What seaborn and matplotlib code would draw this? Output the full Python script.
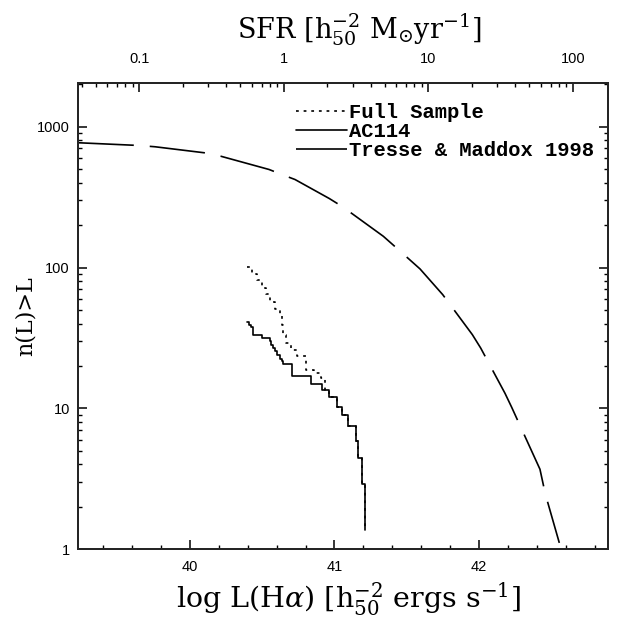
import numpy as np
import pandas as pd
import matplotlib
matplotlib.use("Agg")
import matplotlib.pyplot as plt
import seaborn as sns
from matplotlib.ticker import LogLocator, FixedLocator, FuncFormatter, MultipleLocator, NullFormatter

# ---------------- data ----------------
# AC114 cumulative counts (step function, steps-post)
ac114_logL = [40.397, 40.410, 40.421, 40.436, 40.498, 40.554, 40.562, 40.577, 40.586,
              40.600, 40.623, 40.637, 40.646, 40.706, 40.837, 40.916, 40.960, 41.015,
              41.050, 41.096, 41.149, 41.163, 41.188, 41.211]
ac114_n = [40.8, 39.3, 37.8, 33.4, 31.6, 29.9, 28.4, 26.9, 25.4, 24.0, 22.6, 21.6,
           20.6, 16.9, 14.96, 13.56, 12.0, 10.3, 9.0, 7.44, 5.9, 4.43, 2.9, 1.37]

# Full sample cumulative counts (step function, steps-post)
full_logL = [40.397, 40.427, 40.461, 40.496, 40.526, 40.554, 40.588, 40.623, 40.634,
             40.646, 40.664, 40.699, 40.738, 40.803, 40.858, 40.905, 40.935, 40.960,
             41.015, 41.050, 41.096, 41.149, 41.163, 41.188, 41.211]
full_n = [101, 90.5, 81.1, 71.6, 64.9, 56.6, 50.8, 45.5, 39.3, 33.4, 29.1, 25.8, 23.4,
          18.8, 17.8, 16.4, 13.56, 12.0, 10.3, 9.0, 7.44, 5.9, 4.43, 2.9, 1.37]

# Tresse & Maddox 1998 cumulative function
tm_logL = [39.227, 39.642, 39.758, 40.099, 40.212, 40.547, 40.653, 40.727, 40.964,
           41.057, 41.338, 41.421, 41.592, 41.749, 41.954, 42.012, 42.180, 42.226,
           42.422, 42.459, 42.556]
tm_n = [768.5, 735.3, 719.7, 652.3, 617.0, 496.5, 450.1, 421.3, 308.9, 269.5, 166.6,
        140.1, 97.7, 64.2, 33.4, 26.8, 12.8, 10.2, 3.70, 2.47, 1.11]

labels = ["Full Sample", "AC114", "Tresse & Maddox 1998"]
x_ticks = [40, 41, 42]
y_ticks = [1, 10, 100, 1000]
sfr_ticks = [0.1, 1, 10, 100]
sfr_zero = 40.65  # log L at SFR = 1

xlim = (39.227, 42.895)
ylim = (1, 2050)

# ---------------- style ----------------
sns.set_theme(style="ticks")
plt.rcParams["font.family"] = ["Liberation Sans", "DejaVu Sans"]
plt.rcParams["mathtext.fontset"] = "dejavuserif"
plt.rcParams["lines.scale_dashes"] = False

fig = plt.figure(figsize=(6.17, 6.21), dpi=100)
ax = fig.add_axes([0.1269, 0.1155, 0.9859 - 0.1269, 0.8668 - 0.1155])

df_full = pd.DataFrame({"logL": full_logL, "n": full_n})
df_ac = pd.DataFrame({"logL": ac114_logL, "n": ac114_n})
df_tm = pd.DataFrame({"logL": tm_logL, "n": tm_n})

sns.lineplot(data=df_full, x="logL", y="n", ax=ax, estimator=None, sort=False,
             drawstyle="steps-post", color="black", lw=1.2,
             linestyle=(0, (2.0, 3.5)), label=labels[0])
sns.lineplot(data=df_ac, x="logL", y="n", ax=ax, estimator=None, sort=False,
             drawstyle="steps-post", color="black", lw=1.2, label=labels[1])
sns.lineplot(data=df_tm, x="logL", y="n", ax=ax, estimator=None, sort=False,
             color="black", lw=1.2, linestyle=(0, (40, 11.5)), label=labels[2])

ax.set_yscale("log")
ax.set_xlim(*xlim)
ax.set_ylim(*ylim)

for s in ax.spines.values():
    s.set_linewidth(1.4)
    s.set_color("black")
    s.set_visible(True)

ax.xaxis.set_major_locator(FixedLocator(x_ticks))
ax.xaxis.set_minor_locator(MultipleLocator(0.2))
ax.xaxis.set_major_formatter(FuncFormatter(lambda v, p: f"{v:g}"))
ax.yaxis.set_major_locator(FixedLocator(y_ticks))
ax.yaxis.set_minor_locator(LogLocator(base=10, subs=np.arange(2, 10)))
ax.yaxis.set_major_formatter(FuncFormatter(lambda v, p: f"{v:g}"))
ax.yaxis.set_minor_formatter(NullFormatter())

ax.tick_params(which="both", direction="in", top=False, right=True, color="black",
               labelsize=10.5, labelcolor="black")
ax.tick_params(which="major", length=6.7, width=1.1)
ax.tick_params(which="minor", length=3.1, width=1.0)
ax.tick_params(axis="x", which="major", pad=8)
ax.tick_params(axis="y", which="major", pad=6)

# top axis: SFR
ax2 = ax.twiny()
ax2.set_xscale("log")
ax2.set_xlim(10 ** (xlim[0] - sfr_zero), 10 ** (xlim[1] - sfr_zero))
ax2.xaxis.set_major_locator(FixedLocator(sfr_ticks))
ax2.xaxis.set_minor_locator(LogLocator(base=10, subs=np.arange(2, 10)))
ax2.xaxis.set_major_formatter(FuncFormatter(lambda v, p: f"{v:g}"))
ax2.xaxis.set_minor_formatter(NullFormatter())
ax2.tick_params(which="both", direction="in", color="black", labelsize=10.5,
                labelcolor="black")
ax2.tick_params(which="major", length=6.7, width=1.1, pad=12)
ax2.tick_params(which="minor", length=3.1, width=1.0)
for s in ax2.spines.values():
    s.set_linewidth(1.4)

serif = ["DejaVu Serif"]
ax.set_xlabel(r"log L(H$\alpha$) [h$_{50}^{-2}$ ergs s$^{-1}$]",
              fontsize=20.5, family=serif, labelpad=4, color="black")
ax.xaxis.label.set_x(0.51)
ax.set_ylabel("n(L)>L", fontsize=16, family=serif, color="black")
ax.yaxis.set_label_coords(-0.078, 0.5)
ax2.set_xlabel(r"SFR [h$_{50}^{-2}$ M$_{\odot}$yr$^{-1}$]",
               fontsize=19.5, family=serif, labelpad=10, color="black")
ax2.xaxis.label.set_x(0.53)

leg = ax.legend(loc="upper left", bbox_to_anchor=(0.410, 0.957), frameon=False,
                prop={"family": "Liberation Mono", "size": 14.8, "weight": "bold"},
                handlelength=2.5, handletextpad=0.1, labelspacing=0.0,
                borderaxespad=0, borderpad=0)
for t in leg.get_texts():
    t.set_color("black")

fig.savefig("out.png", dpi=100)
